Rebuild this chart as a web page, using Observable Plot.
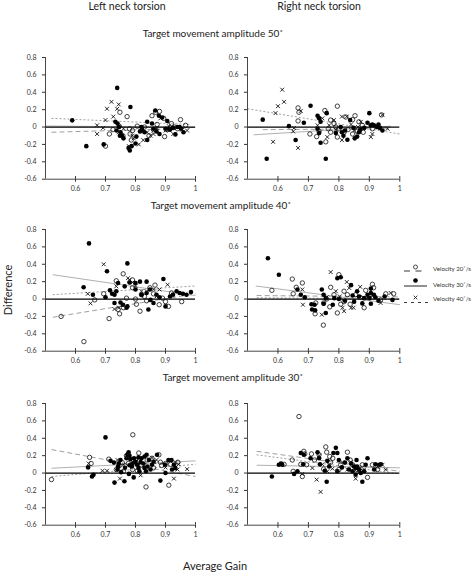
<!DOCTYPE html>
<html><head><meta charset="utf-8">
<script src="https://cdn.jsdelivr.net/npm/d3@7"></script>
<script src="https://cdn.jsdelivr.net/npm/@observablehq/plot@0.6"></script>
<style>body{margin:0;background:#fff}#root{position:relative;width:474px;height:573px;overflow:hidden;background:#fff}</style>
</head><body><div id="root"></div>
<script>
// ---------- texts ----------
const colTitles = ["Left neck torsion", "Right neck torsion"];
const rowTitles = ["Target movement amplitude 50˚", "Target movement amplitude 40˚", "Target movement amplitude 30˚"];
const yLabel = "Difference";
const xLabel = "Average Gain";
const legendLabels = ["Velocity 20˚/s", "Velocity 30˚/s", "Velocity 40˚/s"];
const xTicks = [0.6, 0.7, 0.8, 0.9, 1];
const yTicks = [0.8, 0.6, 0.4, 0.2, 0, -0.2, -0.4, -0.6];

// ---------- data: [average gain, difference] ----------
const L50_v20 = [[0.700,-0.22],[0.713,-0.08],[0.748,0.17],[0.746,0.01],[0.772,0.12],[0.78,-0.02],[0.782,-0.08],[0.786,-0.15],[0.806,0.01],[0.855,0.13],[0.867,0.17],[0.88,0.18],[0.894,0.1],[0.897,-0.11],[0.95,0.085],[0.967,0.02],[0.92,0.04],[0.872,0.03],[0.845,-0.1],[0.79,-0.04],[0.93,0.0],[0.758,-0.1],[0.83,0.0],[0.86,-0.03],[0.905,-0.03],[0.94,-0.02],[0.725,-0.03]];
const L50_v30 = [[0.589,0.077],[0.636,-0.22],[0.694,-0.2],[0.739,0.45],[0.783,0.23],[0.733,0.06],[0.74,0.04],[0.745,0.0],[0.75,-0.06],[0.755,-0.1],[0.737,-0.04],[0.748,-0.1],[0.76,-0.13],[0.777,-0.24],[0.781,-0.27],[0.787,-0.22],[0.8,-0.19],[0.803,-0.11],[0.822,-0.03],[0.82,0.0],[0.839,0.06],[0.839,-0.15],[0.855,0.04],[0.866,0.19],[0.878,0.13],[0.889,0.11],[0.88,-0.08],[0.906,0.07],[0.91,-0.02],[0.915,-0.03],[0.933,-0.085],[0.94,0.0],[0.947,0.0],[0.952,-0.02],[0.96,-0.06],[0.83,-0.06],[0.86,-0.02],[0.87,-0.05],[0.9,-0.02],[0.815,-0.05],[0.925,-0.01]];
const L50_v40 = [[0.672,0.02],[0.672,-0.08],[0.692,-0.01],[0.70,0.08],[0.705,0.21],[0.72,0.29],[0.726,0.12],[0.739,0.21],[0.744,0.26],[0.744,-0.06],[0.778,-0.22],[0.79,-0.1],[0.794,-0.13],[0.811,-0.2],[0.826,-0.15],[0.85,-0.1],[0.872,-0.01],[0.883,0.1],[0.911,0.01],[0.926,-0.08],[0.972,-0.04],[0.839,-0.06],[0.9,-0.04],[0.76,-0.02],[0.86,-0.08],[0.955,-0.03]];
const L50_fit = [{v:20,x1:0.52,y1:-0.06,x2:0.98,y2:-0.015},{v:30,x1:0.5,y1:0.012,x2:1,y2:-0.005},{v:40,x1:0.52,y1:0.1,x2:0.98,y2:0.03}];

const R50_v20 = [[0.666,0.22],[0.669,0.17],[0.666,0.07],[0.705,-0.08],[0.727,-0.11],[0.754,0.19],[0.757,-0.17],[0.795,0.24],[0.773,0.08],[0.784,0.04],[0.795,-0.115],[0.823,0.115],[0.845,0.085],[0.853,0.13],[0.866,0.06],[0.877,0.02],[0.845,-0.08],[0.91,-0.02],[0.817,-0.06],[0.773,-0.06],[0.765,-0.02],[0.8,-0.02],[0.83,-0.03],[0.79,0.0],[0.86,-0.05],[0.88,-0.06],[0.94,0.14],[0.735,-0.05]];
const R50_v30 = [[0.55,0.085],[0.563,-0.365],[0.636,0.01],[0.658,-0.15],[0.685,0.05],[0.707,0.245],[0.73,0.13],[0.735,0.1],[0.74,0.06],[0.74,-0.18],[0.73,-0.02],[0.735,-0.07],[0.757,-0.365],[0.76,0.16],[0.806,0.0],[0.81,-0.06],[0.815,-0.1],[0.828,-0.146],[0.837,0.08],[0.848,-0.01],[0.852,-0.13],[0.866,-0.06],[0.883,-0.01],[0.894,0.05],[0.9,0.16],[0.905,0.02],[0.91,0.03],[0.915,0.02],[0.925,0.0],[0.93,0.03],[0.935,-0.01],[0.943,-0.04],[0.86,-0.11],[0.79,-0.07],[0.87,-0.03],[0.82,-0.04]];
const R50_v40 = [[0.614,0.43],[0.62,0.29],[0.6,0.24],[0.592,0.16],[0.584,-0.17],[0.653,-0.01],[0.65,-0.05],[0.666,-0.24],[0.675,0.185],[0.746,0.1],[0.768,0.02],[0.784,0.08],[0.81,0.12],[0.826,0.12],[0.84,0.03],[0.863,0.0],[0.872,0.06],[0.905,-0.115],[0.91,-0.08],[0.943,0.14],[0.96,-0.02],[0.762,-0.115],[0.81,-0.15],[0.79,-0.03],[0.85,-0.04],[0.73,0.02]];
const R50_fit = [{v:20,x1:0.55,y1:-0.03,x2:0.97,y2:-0.02},{v:30,x1:0.52,y1:-0.09,x2:0.97,y2:0.01},{v:40,x1:0.5,y1:0.21,x2:1,y2:-0.08}];

const L40_v20 = [[0.552,-0.2],[0.628,-0.49],[0.694,0.06],[0.712,-0.225],[0.736,0.21],[0.742,-0.12],[0.747,-0.17],[0.759,0.29],[0.77,0.01],[0.79,0.22],[0.79,0.13],[0.803,-0.06],[0.815,-0.14],[0.82,0.05],[0.83,0.03],[0.848,0.13],[0.865,0.16],[0.879,-0.065],[0.89,0.01],[0.9,-0.03],[0.91,-0.085],[0.92,0.07],[0.954,-0.03],[0.664,-0.01],[0.837,-0.02],[0.76,-0.1],[0.86,0.06],[0.8,0.0]];
const L40_v30 = [[0.645,0.64],[0.627,0.135],[0.658,0.05],[0.705,0.32],[0.70,0.02],[0.715,0.1],[0.722,0.06],[0.73,0.05],[0.73,-0.045],[0.736,0.09],[0.742,0.185],[0.75,-0.04],[0.758,-0.065],[0.77,-0.1],[0.773,0.41],[0.78,0.19],[0.80,0.185],[0.815,0.2],[0.837,0.2],[0.80,0.11],[0.82,0.05],[0.837,0.07],[0.848,0.11],[0.85,-0.01],[0.86,-0.045],[0.843,-0.12],[0.87,0.05],[0.893,0.23],[0.9,-0.085],[0.915,0.03],[0.925,0.05],[0.937,0.09],[0.947,0.07],[0.958,0.06],[0.97,0.05],[0.985,0.08],[0.764,0.146],[0.773,-0.085],[0.88,0.02]];
const L40_v40 = [[0.641,0.06],[0.65,-0.05],[0.694,0.40],[0.73,-0.115],[0.759,-0.065],[0.775,0.24],[0.78,0.22],[0.79,0.19],[0.861,0.11],[0.88,0.11],[0.907,0.165],[0.837,0.09],[0.82,0.09],[0.736,0.146],[0.745,-0.1],[0.8,0.15],[0.87,0.03]];
const L40_fit = [{v:20,x1:0.524,y1:-0.21,x2:1,y2:0.06},{v:30,x1:0.524,y1:0.28,x2:1,y2:0.04},{v:40,x1:0.524,y1:0.05,x2:1,y2:0.15}];

const R40_v20 = [[0.58,0.1],[0.647,0.23],[0.65,0.06],[0.66,0.135],[0.68,0.185],[0.724,-0.045],[0.722,-0.17],[0.749,-0.3],[0.75,-0.045],[0.77,-0.09],[0.773,0.135],[0.784,0.05],[0.8,0.28],[0.795,-0.16],[0.806,-0.06],[0.817,0.09],[0.828,0.05],[0.837,-0.06],[0.855,0.05],[0.883,-0.1],[0.888,0.1],[0.91,0.17],[0.914,0.13],[0.937,-0.01],[0.954,0.06],[0.98,0.06],[0.817,-0.03],[0.76,0.0],[0.87,0.02],[0.9,0.03]];
const R40_v30 = [[0.567,0.47],[0.603,0.28],[0.664,0.11],[0.675,0.05],[0.688,0.02],[0.71,-0.06],[0.712,-0.12],[0.722,-0.13],[0.72,-0.065],[0.744,0.11],[0.75,0.05],[0.757,0.01],[0.75,-0.055],[0.757,-0.16],[0.78,-0.065],[0.795,0.24],[0.806,0.25],[0.785,0.01],[0.8,0.0],[0.82,-0.02],[0.84,0.16],[0.845,0.04],[0.85,-0.03],[0.86,0.09],[0.866,0.03],[0.877,-0.05],[0.883,0.01],[0.894,0.05],[0.9,0.01],[0.905,0.12],[0.905,0.07],[0.905,-0.055],[0.915,0.05],[0.92,0.02],[0.93,-0.02],[0.95,0.03],[0.976,-0.01]];
const R40_v40 = [[0.68,0.11],[0.682,-0.065],[0.744,-0.18],[0.773,0.31],[0.79,0.09],[0.803,0.03],[0.812,-0.1],[0.817,-0.14],[0.826,0.196],[0.834,0.127],[0.84,-0.1],[0.87,0.14],[0.894,0.01],[0.937,-0.045],[0.97,0.07],[0.848,-0.1],[0.76,0.02]];
const R40_fit = [{v:20,x1:0.53,y1:0.04,x2:1,y2:0.025},{v:30,x1:0.527,y1:0.15,x2:1,y2:-0.065},{v:40,x1:0.53,y1:0.015,x2:1,y2:0.0}];

const L30_v20 = [[0.52,-0.075],[0.647,0.18],[0.652,0.11],[0.711,0.16],[0.736,0.04],[0.756,0.12],[0.776,0.11],[0.791,0.44],[0.806,0.026],[0.811,0.23],[0.835,-0.16],[0.839,0.15],[0.855,0.17],[0.878,0.21],[0.883,0.125],[0.887,0.087],[0.911,-0.14],[0.917,0.1],[0.941,0.125],[0.76,0.02],[0.79,0.04],[0.77,0.2],[0.8,0.15],[0.82,0.09],[0.86,0.06],[0.9,0.11],[0.745,0.08]];
const L30_v30 = [[0.642,0.065],[0.655,-0.04],[0.66,-0.02],[0.70,0.41],[0.717,0.14],[0.728,0.12],[0.73,-0.11],[0.74,0.04],[0.742,0.075],[0.744,0.11],[0.75,0.15],[0.752,0.01],[0.763,-0.095],[0.77,0.17],[0.773,0.21],[0.777,0.24],[0.78,0.2],[0.783,0.16],[0.78,0.09],[0.788,0.075],[0.79,0.11],[0.778,-0.01],[0.794,-0.05],[0.795,0.17],[0.8,0.13],[0.805,0.095],[0.81,0.057],[0.813,0.02],[0.817,0.125],[0.82,0.17],[0.826,0.11],[0.83,0.19],[0.837,0.21],[0.83,0.057],[0.835,0.02],[0.84,0.075],[0.845,0.15],[0.855,0.095],[0.86,0.13],[0.872,0.21],[0.883,-0.087],[0.898,0.095],[0.9,0.0],[0.91,0.15],[0.92,0.15],[0.922,0.04],[0.928,0.095],[0.933,0.057],[0.765,0.06],[0.81,0.18],[0.85,0.04]];
const L30_v40 = [[0.644,0.11],[0.69,0.026],[0.705,0.026],[0.74,0.15],[0.748,-0.064],[0.76,0.094],[0.772,0.177],[0.776,0.22],[0.817,-0.026],[0.83,0.094],[0.855,0.177],[0.863,0.125],[0.9,0.064],[0.917,0.15],[0.928,-0.064],[0.933,0.125],[0.944,0.1],[0.972,0.045],[0.94,0.04],[0.79,0.13],[0.87,0.15]];
const L30_fit = [{v:20,x1:0.52,y1:0.27,x2:1,y2:-0.04},{v:30,x1:0.52,y1:0.055,x2:1,y2:0.14},{v:40,x1:0.52,y1:-0.04,x2:1,y2:0.1}];

const R30_v20 = [[0.62,0.1],[0.647,0.15],[0.65,0.02],[0.669,0.65],[0.675,0.1],[0.68,-0.04],[0.685,0.25],[0.688,0.22],[0.694,0.095],[0.71,0.22],[0.735,0.21],[0.75,0.046],[0.757,0.3],[0.76,0.24],[0.77,0.19],[0.773,0.125],[0.8,0.04],[0.828,0.24],[0.837,0.15],[0.845,0.095],[0.86,0.04],[0.877,0.095],[0.894,-0.05],[0.91,0.095],[0.927,0.04],[0.806,0.095],[0.72,0.15],[0.78,0.17],[0.87,0.02]];
const R30_v30 = [[0.58,-0.04],[0.603,0.095],[0.61,0.11],[0.614,0.095],[0.653,-0.01],[0.664,0.02],[0.675,0.23],[0.685,0.21],[0.683,0.1],[0.707,0.17],[0.73,0.24],[0.735,0.17],[0.738,0.1],[0.754,0.027],[0.76,-0.1],[0.762,0.14],[0.768,0.076],[0.782,0.23],[0.79,0.29],[0.795,0.23],[0.8,0.15],[0.795,0.02],[0.81,0.065],[0.828,0.17],[0.84,0.11],[0.833,0.04],[0.845,0.02],[0.85,0.076],[0.855,0.057],[0.86,0.076],[0.858,0.15],[0.866,0.04],[0.872,0.0],[0.883,0.02],[0.877,-0.1],[0.888,0.095],[0.894,0.17],[0.916,0.04],[0.92,0.1],[0.932,0.095],[0.938,0.1],[0.855,-0.02],[0.82,0.12]];
const R30_v40 = [[0.68,-0.01],[0.713,0.057],[0.727,-0.076],[0.74,-0.217],[0.746,0.1],[0.762,0.02],[0.779,0.05],[0.795,0.02],[0.812,0.125],[0.828,0.04],[0.84,0.125],[0.855,-0.065],[0.87,0.057],[0.883,0.04],[0.927,0.076],[0.943,0.095],[0.954,0.04],[0.768,0.095],[0.735,0.2]];
const R30_fit = [{v:20,x1:0.53,y1:0.25,x2:1,y2:0.02},{v:30,x1:0.53,y1:0.09,x2:1,y2:0.06},{v:40,x1:0.53,y1:0.21,x2:1,y2:-0.01}];

// ---------- layout ----------
const FONT = "Lato, 'Open Sans', sans-serif";
const panels = [
  {left:45,    top:57,    w:150,   v20:L50_v20, v30:L50_v30, v40:L50_v40, fit:L50_fit},
  {left:246.7, top:57,    w:152.3, v20:R50_v20, v30:R50_v30, v40:R50_v40, fit:R50_fit},
  {left:45,    top:229,   w:150,   v20:L40_v20, v30:L40_v30, v40:L40_v40, fit:L40_fit},
  {left:246.7, top:229,   w:152.3, v20:R40_v20, v30:R40_v30, v40:R40_v40, fit:R40_fit},
  {left:45,    top:403.3, w:150,   v20:L30_v20, v30:L30_v30, v40:L30_v40, fit:L30_fit},
  {left:246.7, top:403.3, w:152.3, v20:R30_v20, v30:R30_v30, v40:R30_v40, fit:R30_fit}
];
const PH = 121.7, ML = 40, MR = 10, MT = 10, MB = 20;
const fmtY = d => d === 0 ? "0" : d.toFixed(1);
const fmtX = d => d === 1 ? "1" : d.toFixed(1);
const fitStyle = {20:{stroke:"#a0a0a0", dash:"5,3"}, 30:{stroke:"#b0b0b0", dash:null}, 40:{stroke:"#a0a0a0", dash:"2,2"}};

const root = document.getElementById("root");

// overlay for texts and legend
const svg = d3.select(root).append("svg")
  .attr("width", 474).attr("height", 573)
  .style("position", "absolute").style("left", "0px").style("top", "0px")
  .style("font-family", FONT);

const colX = [127, 319];
colTitles.forEach((t, i) => svg.append("text").attr("x", colX[i]).attr("y", 10)
  .attr("text-anchor", "middle").attr("font-size", 10.5).attr("fill", "#222").text(t));
const rowT = [[213, 37], [221, 209], [233, 381]];
rowTitles.forEach((t, i) => svg.append("text").attr("x", rowT[i][0]).attr("y", rowT[i][1])
  .attr("text-anchor", "middle").attr("font-size", 10).attr("fill", "#222").text(t));
svg.append("text").attr("transform", "translate(12,290) rotate(-90)")
  .attr("text-anchor", "middle").attr("font-size", 11).attr("fill", "#222").text(yLabel);
svg.append("text").attr("x", 215).attr("y", 570)
  .attr("text-anchor", "middle").attr("font-size", 11).attr("fill", "#222").text(xLabel);

// legend
const lg = svg.append("g");
const lgY = [271, 286.5, 301];
legendLabels.forEach((t, i) => lg.append("text").attr("x", 433).attr("y", lgY[i])
  .attr("font-size", 6.5).attr("fill", "#333")
  .attr("textLength", 38).attr("lengthAdjust", "spacingAndGlyphs").text(t));
// 20: long dashes with open circle
lg.append("line").attr("x1", 404).attr("x2", 427).attr("y1", 271).attr("y2", 271)
  .attr("stroke", "#222").attr("stroke-width", 0.9).attr("stroke-dasharray", "6,5.5");
lg.append("circle").attr("cx", 415.5).attr("cy", 267).attr("r", 2).attr("fill", "none").attr("stroke", "#222").attr("stroke-width", 0.8);
// 30: solid with filled circle
lg.append("line").attr("x1", 404).attr("x2", 427).attr("y1", 286).attr("y2", 286)
  .attr("stroke", "#222").attr("stroke-width", 1);
lg.append("circle").attr("cx", 415.5).attr("cy", 280.5).attr("r", 2.3).attr("fill", "#000");
// 40: short dashes with x
lg.append("line").attr("x1", 404).attr("x2", 428).attr("y1", 302.5).attr("y2", 302.5)
  .attr("stroke", "#222").attr("stroke-width", 0.9).attr("stroke-dasharray", "3,4");
lg.append("path").attr("d", "M-1.8,-1.8L1.8,1.8M-1.8,1.8L1.8,-1.8").attr("transform", "translate(415.5,297.5)")
  .attr("stroke", "#222").attr("stroke-width", 0.9).attr("fill", "none");

// panels
panels.forEach(p => {
  const fitMarks = [20, 30, 40].map(v => Plot.link(p.fit.filter(d => d.v === v), {
    x1: "x1", y1: "y1", x2: "x2", y2: "y2",
    stroke: fitStyle[v].stroke, strokeWidth: 1,
    ...(fitStyle[v].dash ? {strokeDasharray: fitStyle[v].dash} : {})
  }));
  const chart = Plot.plot({
    width: ML + p.w + MR, height: MT + PH + MB,
    marginLeft: ML, marginRight: MR, marginTop: MT, marginBottom: MB,
    x: {domain: [0.5, 1]},
    y: {domain: [-0.6, 0.8]},
    style: {fontFamily: FONT, fontSize: "7px", color: "#333", background: "transparent", overflow: "visible"},
    marks: [
      ...fitMarks,
      Plot.ruleY([0], {stroke: "#000", strokeWidth: 1.3}),
      Plot.ruleX([0.5], {stroke: "#333", strokeWidth: 0.9}),
      Plot.ruleY([-0.6], {stroke: "#333", strokeWidth: 0.9}),
      Plot.axisY({ticks: yTicks, tickSize: 3, tickPadding: 6, tickFormat: fmtY, label: null}),
      Plot.axisX({ticks: xTicks, tickSize: 3, tickPadding: 4, tickFormat: fmtX, label: null}),
      Plot.ruleX(xTicks, {y1: -0.6, y2: -0.57, stroke: "#333"}),
      Plot.dot(p.v20, {x: d => d[0], y: d => d[1], r: 2.2, stroke: "#111", strokeWidth: 0.8, fill: "none"}),
      Plot.dot(p.v30, {x: d => d[0], y: d => d[1], r: 2.3, fill: "#000", stroke: "none"}),
      Plot.dot(p.v40, {x: d => d[0], y: d => d[1], r: 1.9, symbol: "times", stroke: "#111", strokeWidth: 0.9})
    ]
  });
  chart.style.position = "absolute";
  chart.style.left = (p.left - ML) + "px";
  chart.style.top = (p.top - MT) + "px";
  root.appendChild(chart);
});
</script>
</body></html>
